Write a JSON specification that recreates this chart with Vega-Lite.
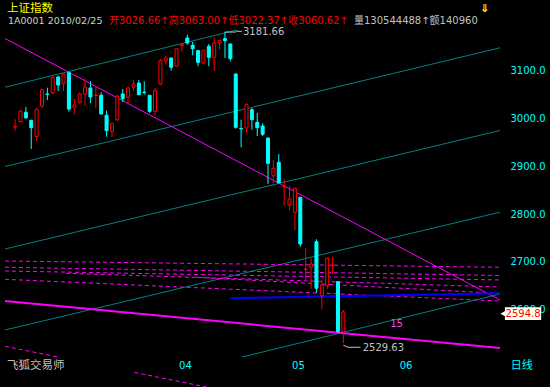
{
  "$schema": "https://vega.github.io/schema/vega-lite/v6.json",
  "width": 505,
  "height": 327,
  "autosize": "none",
  "padding": {"left": 0, "top": 30, "right": 45, "bottom": 30},
  "background": "#000000",
  "config": {
    "view": {"stroke": null},
    "axis": {"grid": false, "domain": false, "ticks": false, "labelColor": "#00ffff", "labelFont": "DejaVu Sans", "labelFontSize": 10, "labelOverlap": false, "labelFlush": false, "zindex": 0},
    "axisX": {"labelAlign": "left", "labelOffset": 2, "labelPadding": 3},
    "axisY": {"labelPadding": 5}
  },
  "datasets": {
    "candles": [
      {"i": 0, "date": "2010-02-11", "o": 2982.5, "h": 2998.7, "l": 2974.8, "c": 2983.5},
      {"i": 1, "date": "2010-02-12", "o": 2993.7, "h": 3017.6, "l": 2992.5, "c": 3016.1},
      {"i": 2, "date": "2010-02-22", "o": 3013.4, "h": 3024.5, "l": 3000.8, "c": 3001.5},
      {"i": 3, "date": "2010-02-23", "o": 2996.6, "h": 2997.5, "l": 2936.5, "c": 2981.1},
      {"i": 4, "date": "2010-02-24", "o": 2962.3, "h": 3021.8, "l": 2953.9, "c": 3019.7},
      {"i": 5, "date": "2010-02-25", "o": 3026.66, "h": 3063.0, "l": 3022.37, "c": 3060.62},
      {"i": 6, "date": "2010-02-26", "o": 3051.5, "h": 3065.0, "l": 3039.2, "c": 3050.8},
      {"i": 7, "date": "2010-03-01", "o": 3054.5, "h": 3090.1, "l": 3051.8, "c": 3086.0},
      {"i": 8, "date": "2010-03-02", "o": 3087.4, "h": 3090.1, "l": 3058.1, "c": 3070.6},
      {"i": 9, "date": "2010-03-03", "o": 3073.4, "h": 3095.2, "l": 3058.1, "c": 3093.7},
      {"i": 10, "date": "2010-03-04", "o": 3096.4, "h": 3098.5, "l": 3014.7, "c": 3020.3},
      {"i": 11, "date": "2010-03-05", "o": 3023.9, "h": 3041.3, "l": 3009.2, "c": 3028.7},
      {"i": 12, "date": "2010-03-08", "o": 3033.5, "h": 3054.5, "l": 3031.4, "c": 3051.8},
      {"i": 13, "date": "2010-03-09", "o": 3051.8, "h": 3084.7, "l": 3026.6, "c": 3066.5},
      {"i": 14, "date": "2010-03-10", "o": 3064.4, "h": 3078.4, "l": 3032.9, "c": 3045.5},
      {"i": 15, "date": "2010-03-11", "o": 3048.6, "h": 3067.9, "l": 3022.4, "c": 3049.6},
      {"i": 16, "date": "2010-03-12", "o": 3049.1, "h": 3055.3, "l": 3009.0, "c": 3009.9},
      {"i": 17, "date": "2010-03-15", "o": 3007.1, "h": 3016.8, "l": 2962.3, "c": 2974.8},
      {"i": 18, "date": "2010-03-16", "o": 2973.6, "h": 2992.5, "l": 2961.6, "c": 2989.5},
      {"i": 19, "date": "2010-03-17", "o": 2997.9, "h": 3050.3, "l": 2994.6, "c": 3047.0},
      {"i": 20, "date": "2010-03-18", "o": 3051.8, "h": 3062.3, "l": 3035.0, "c": 3041.9},
      {"i": 21, "date": "2010-03-19", "o": 3044.9, "h": 3067.9, "l": 3030.8, "c": 3064.4},
      {"i": 22, "date": "2010-03-22", "o": 3066.5, "h": 3081.8, "l": 3058.7, "c": 3072.7},
      {"i": 23, "date": "2010-03-23", "o": 3074.8, "h": 3081.1, "l": 3049.5, "c": 3050.3},
      {"i": 24, "date": "2010-03-24", "o": 3055.8, "h": 3078.4, "l": 3050.3, "c": 3055.0},
      {"i": 25, "date": "2010-03-25", "o": 3049.1, "h": 3049.8, "l": 3012.0, "c": 3015.5},
      {"i": 26, "date": "2010-03-26", "o": 3015.5, "h": 3064.4, "l": 3007.1, "c": 3058.7},
      {"i": 27, "date": "2010-03-29", "o": 3072.7, "h": 3125.8, "l": 3070.0, "c": 3121.6},
      {"i": 28, "date": "2010-03-30", "o": 3121.6, "h": 3132.1, "l": 3113.2, "c": 3127.3},
      {"i": 29, "date": "2010-03-31", "o": 3127.3, "h": 3128.0, "l": 3100.6, "c": 3107.8},
      {"i": 30, "date": "2010-04-01", "o": 3109.9, "h": 3147.5, "l": 3109.0, "c": 3146.7},
      {"i": 31, "date": "2010-04-02", "o": 3153.0, "h": 3157.2, "l": 3139.8, "c": 3156.0},
      {"i": 32, "date": "2010-04-06", "o": 3169.2, "h": 3176.1, "l": 3155.1, "c": 3158.7},
      {"i": 33, "date": "2010-04-07", "o": 3153.9, "h": 3160.8, "l": 3132.9, "c": 3146.7},
      {"i": 34, "date": "2010-04-08", "o": 3142.6, "h": 3143.3, "l": 3109.9, "c": 3118.2},
      {"i": 35, "date": "2010-04-09", "o": 3116.8, "h": 3144.2, "l": 3113.2, "c": 3143.4},
      {"i": 36, "date": "2010-04-12", "o": 3151.8, "h": 3156.6, "l": 3109.9, "c": 3128.7},
      {"i": 37, "date": "2010-04-13", "o": 3128.7, "h": 3170.6, "l": 3100.6, "c": 3158.7},
      {"i": 38, "date": "2010-04-14", "o": 3158.7, "h": 3165.2, "l": 3144.7, "c": 3164.4},
      {"i": 39, "date": "2010-04-15", "o": 3167.7, "h": 3181.66, "l": 3127.3, "c": 3163.5},
      {"i": 40, "date": "2010-04-16", "o": 3156.6, "h": 3157.4, "l": 3120.3, "c": 3125.8},
      {"i": 41, "date": "2010-04-19", "o": 3093.7, "h": 3094.5, "l": 2979.0, "c": 2982.0},
      {"i": 42, "date": "2010-04-20", "o": 2979.4, "h": 2997.9, "l": 2940.0, "c": 2978.6},
      {"i": 43, "date": "2010-04-21", "o": 2980.5, "h": 3032.9, "l": 2971.5, "c": 3029.4},
      {"i": 44, "date": "2010-04-22", "o": 3018.9, "h": 3022.4, "l": 2976.9, "c": 2997.9},
      {"i": 45, "date": "2010-04-23", "o": 2992.5, "h": 3012.0, "l": 2963.7, "c": 2981.1},
      {"i": 46, "date": "2010-04-26", "o": 2984.7, "h": 2990.4, "l": 2963.7, "c": 2967.3},
      {"i": 47, "date": "2010-04-27", "o": 2959.5, "h": 2960.3, "l": 2863.1, "c": 2906.5},
      {"i": 48, "date": "2010-04-28", "o": 2880.5, "h": 2913.4, "l": 2864.6, "c": 2896.0},
      {"i": 49, "date": "2010-04-29", "o": 2908.6, "h": 2926.0, "l": 2864.6, "c": 2865.8},
      {"i": 50, "date": "2010-04-30", "o": 2857.0, "h": 2873.6, "l": 2817.6, "c": 2857.8},
      {"i": 51, "date": "2010-05-04", "o": 2819.1, "h": 2858.9, "l": 2808.6, "c": 2831.7},
      {"i": 52, "date": "2010-05-05", "o": 2803.8, "h": 2854.9, "l": 2766.7, "c": 2854.1},
      {"i": 53, "date": "2010-05-06", "o": 2835.2, "h": 2836.0, "l": 2731.7, "c": 2737.3},
      {"i": 54, "date": "2010-05-07", "o": 2683.8, "h": 2728.3, "l": 2661.9, "c": 2684.8},
      {"i": 55, "date": "2010-05-10", "o": 2688.5, "h": 2707.3, "l": 2643.0, "c": 2695.4},
      {"i": 56, "date": "2010-05-11", "o": 2742.1, "h": 2747.2, "l": 2635.2, "c": 2644.5},
      {"i": 57, "date": "2010-05-12", "o": 2628.9, "h": 2663.3, "l": 2600.4, "c": 2651.4},
      {"i": 58, "date": "2010-05-13", "o": 2649.9, "h": 2708.1, "l": 2643.0, "c": 2707.3},
      {"i": 59, "date": "2010-05-14", "o": 2692.2, "h": 2710.7, "l": 2674.4, "c": 2693.2},
      {"i": 60, "date": "2010-05-17", "o": 2658.3, "h": 2659.0, "l": 2551.4, "c": 2553.5},
      {"i": 61, "date": "2010-05-18", "o": 2553.5, "h": 2598.9, "l": 2529.63, "c": 2594.8}
    ],
    "lines": [
      {"id": "T0", "kind": "teal", "i": -1.876, "p": 3065.95},
      {"id": "T0", "kind": "teal", "i": 90.11, "p": 3322.4},
      {"id": "TA", "kind": "teal", "i": -1.876, "p": 2899.8},
      {"id": "TA", "kind": "teal", "i": 90.11, "p": 3148.6},
      {"id": "TB", "kind": "teal", "i": -1.876, "p": 2726.8},
      {"id": "TB", "kind": "teal", "i": 90.11, "p": 2975.3},
      {"id": "TC", "kind": "teal", "i": -1.876, "p": 2557.0},
      {"id": "TC", "kind": "teal", "i": 90.11, "p": 2804.0},
      {"id": "TD", "kind": "teal", "i": -1.876, "p": 2378.8},
      {"id": "TD", "kind": "teal", "i": 90.11, "p": 2632.5},
      {"id": "Da", "kind": "dash", "i": -1.876, "p": 2701.7},
      {"id": "Da", "kind": "dash", "i": 90.11, "p": 2688.5},
      {"id": "Db", "kind": "dash", "i": -1.876, "p": 2688.5},
      {"id": "Db", "kind": "dash", "i": 90.11, "p": 2671.3},
      {"id": "Dc", "kind": "dash", "i": -1.876, "p": 2680.7},
      {"id": "Dc", "kind": "dash", "i": 90.11, "p": 2661.9},
      {"id": "De", "kind": "dash", "i": 9.42, "p": 2675.9},
      {"id": "De", "kind": "dash", "i": 90.11, "p": 2647.2},
      {"id": "Df", "kind": "dash", "i": 33.64, "p": 2667.5},
      {"id": "Df", "kind": "dash", "i": 90.11, "p": 2633.6},
      {"id": "Dd", "kind": "dash", "i": -1.876, "p": 2663.3},
      {"id": "Dd", "kind": "dash", "i": 90.11, "p": 2617.8},
      {"id": "M1", "kind": "mag", "i": -1.876, "p": 3168.1},
      {"id": "M1", "kind": "mag", "i": 90.11, "p": 2619.9},
      {"id": "M2", "kind": "mag2", "i": -1.876, "p": 2617.8},
      {"id": "M2", "kind": "mag2", "i": 90.11, "p": 2519.3},
      {"id": "B1", "kind": "blue", "i": 40.02, "p": 2623.5},
      {"id": "B1", "kind": "blue", "i": 90.11, "p": 2633.9},
      {"id": "S1", "kind": "outdash", "i": -1.876, "p": 2522.9},
      {"id": "S1", "kind": "outdash", "i": 7.96, "p": 2500.4},
      {"id": "S2", "kind": "outdash", "i": 22.17, "p": 2468.1},
      {"id": "S2", "kind": "outdash", "i": 37.65, "p": 2432.7},
      {"id": "L1", "kind": "lead", "i": 39, "p": 3181.66},
      {"id": "L1", "kind": "lead", "i": 40.93, "p": 3181.66},
      {"id": "L1", "kind": "lead", "i": 41.1, "p": 3183.2},
      {"id": "L1", "kind": "lead", "i": 42.15, "p": 3183.2},
      {"id": "L2", "kind": "lead", "i": 61, "p": 2525.0},
      {"id": "L2", "kind": "lead", "i": 61.9, "p": 2520.8},
      {"id": "L2", "kind": "lead", "i": 64.2, "p": 2520.8}
    ],
    "marks": [
      {"name": "high", "i": 42.35, "p": 3182.2, "v": 3181.66},
      {"name": "low", "i": 64.6, "p": 2519.3, "v": 2529.63}
    ]
  },
  "layer": [
    {
      "data": {"name": "lines"},
      "transform": [{"filter": "datum.kind == 'teal'"}],
      "mark": {"type": "line", "color": "#008080", "strokeWidth": 1, "clip": true},
      "encoding": {
        "x": {"field": "i", "type": "quantitative", "scale": {"domain": [-1.876, 90.11], "nice": false, "zero": false}, "axis": {"title": null, "values": [30, 51, 71], "labelExpr": "datum.value == 30 ? '04' : datum.value == 51 ? '05' : '06'"}},
        "y": {"field": "p", "type": "quantitative", "scale": {"domain": [2500.4, 3185.95], "nice": false, "zero": false}, "axis": {"title": null, "orient": "right", "values": [2600, 2700, 2800, 2900, 3000, 3100], "format": ".1f"}},
        "detail": {"field": "id"}
      }
    },
    {
      "data": {"name": "lines"},
      "transform": [{"filter": "datum.kind == 'dash'"}],
      "mark": {"type": "line", "color": "#ff00ff", "strokeWidth": 1, "strokeDash": [4, 3], "clip": true},
      "encoding": {
        "x": {"field": "i", "type": "quantitative", "axis": {"title": null, "values": [30, 51, 71], "labelExpr": "datum.value == 30 ? '04' : datum.value == 51 ? '05' : '06'"}},
        "y": {"field": "p", "type": "quantitative", "axis": {"title": null, "orient": "right", "values": [2600, 2700, 2800, 2900, 3000, 3100], "format": ".1f"}},
        "detail": {"field": "id"}
      }
    },
    {
      "data": {"name": "lines"},
      "transform": [{"filter": "datum.kind == 'outdash'"}],
      "mark": {"type": "line", "color": "#ff00ff", "strokeWidth": 1, "strokeDash": [4, 3], "clip": false},
      "encoding": {
        "x": {"field": "i", "type": "quantitative", "axis": {"title": null, "values": [30, 51, 71], "labelExpr": "datum.value == 30 ? '04' : datum.value == 51 ? '05' : '06'"}},
        "y": {"field": "p", "type": "quantitative", "axis": {"title": null, "orient": "right", "values": [2600, 2700, 2800, 2900, 3000, 3100], "format": ".1f"}},
        "detail": {"field": "id"}
      }
    },
    {
      "data": {"name": "lines"},
      "transform": [{"filter": "datum.kind == 'mag'"}],
      "mark": {"type": "line", "color": "#ff00ff", "strokeWidth": 1, "clip": true},
      "encoding": {
        "x": {"field": "i", "type": "quantitative", "axis": {"title": null, "values": [30, 51, 71], "labelExpr": "datum.value == 30 ? '04' : datum.value == 51 ? '05' : '06'"}},
        "y": {"field": "p", "type": "quantitative", "axis": {"title": null, "orient": "right", "values": [2600, 2700, 2800, 2900, 3000, 3100], "format": ".1f"}},
        "detail": {"field": "id"}
      }
    },
    {
      "data": {"name": "lines"},
      "transform": [{"filter": "datum.kind == 'mag2'"}],
      "mark": {"type": "line", "color": "#ff00ff", "strokeWidth": 2, "clip": true},
      "encoding": {
        "x": {"field": "i", "type": "quantitative", "axis": {"title": null, "values": [30, 51, 71], "labelExpr": "datum.value == 30 ? '04' : datum.value == 51 ? '05' : '06'"}},
        "y": {"field": "p", "type": "quantitative", "axis": {"title": null, "orient": "right", "values": [2600, 2700, 2800, 2900, 3000, 3100], "format": ".1f"}},
        "detail": {"field": "id"}
      }
    },
    {
      "data": {"name": "lines"},
      "transform": [{"filter": "datum.kind == 'blue'"}],
      "mark": {"type": "line", "color": "#0000ff", "strokeWidth": 2, "clip": true},
      "encoding": {
        "x": {"field": "i", "type": "quantitative", "axis": {"title": null, "values": [30, 51, 71], "labelExpr": "datum.value == 30 ? '04' : datum.value == 51 ? '05' : '06'"}},
        "y": {"field": "p", "type": "quantitative", "axis": {"title": null, "orient": "right", "values": [2600, 2700, 2800, 2900, 3000, 3100], "format": ".1f"}},
        "detail": {"field": "id"}
      }
    },
    {
      "data": {"name": "candles"},
      "mark": {"type": "rule", "strokeWidth": 1},
      "encoding": {
        "x": {"field": "i", "type": "quantitative", "axis": {"title": null, "values": [30, 51, 71], "labelExpr": "datum.value == 30 ? '04' : datum.value == 51 ? '05' : '06'"}},
        "y": {"field": "l", "type": "quantitative", "axis": {"title": null, "orient": "right", "values": [2600, 2700, 2800, 2900, 3000, 3100], "format": ".1f"}},
        "y2": {"field": "h"},
        "color": {"condition": {"test": "datum.c >= datum.o", "value": "#ff0000"}, "value": "#00ffff"}
      }
    },
    {
      "data": {"name": "candles"},
      "mark": {"type": "bar", "size": 3, "strokeWidth": 1},
      "encoding": {
        "x": {"field": "i", "type": "quantitative", "axis": {"title": null, "values": [30, 51, 71], "labelExpr": "datum.value == 30 ? '04' : datum.value == 51 ? '05' : '06'"}},
        "y": {"field": "o", "type": "quantitative", "axis": {"title": null, "orient": "right", "values": [2600, 2700, 2800, 2900, 3000, 3100], "format": ".1f"}},
        "y2": {"field": "c"},
        "fill": {"condition": {"test": "datum.c >= datum.o", "value": "#000000"}, "value": "#00ffff"},
        "stroke": {"condition": {"test": "datum.c >= datum.o", "value": "#ff0000"}, "value": "#00ffff"}
      }
    },
    {
      "data": {"name": "lines"},
      "transform": [{"filter": "datum.kind == 'lead'"}],
      "mark": {"type": "line", "color": "#c0c0c0", "strokeWidth": 1, "clip": false},
      "encoding": {
        "x": {"field": "i", "type": "quantitative", "axis": {"title": null, "values": [30, 51, 71], "labelExpr": "datum.value == 30 ? '04' : datum.value == 51 ? '05' : '06'"}},
        "y": {"field": "p", "type": "quantitative", "axis": {"title": null, "orient": "right", "values": [2600, 2700, 2800, 2900, 3000, 3100], "format": ".1f"}},
        "detail": {"field": "id"}
      }
    },
    {
      "data": {"name": "marks"},
      "mark": {"type": "text", "align": "left", "baseline": "middle", "color": "#c0c0c0", "font": "DejaVu Sans", "fontSize": 10},
      "encoding": {
        "x": {"field": "i", "type": "quantitative", "axis": {"title": null, "values": [30, 51, 71], "labelExpr": "datum.value == 30 ? '04' : datum.value == 51 ? '05' : '06'"}},
        "y": {"field": "p", "type": "quantitative", "axis": {"title": null, "orient": "right", "values": [2600, 2700, 2800, 2900, 3000, 3100], "format": ".1f"}},
        "text": {"field": "v", "type": "quantitative", "format": ".2f"}
      }
    },
    {
      "data": {"values": [{}]},
      "mark": {"type": "text", "text": "15", "align": "left", "baseline": "middle", "color": "#ff40ff", "font": "DejaVu Sans", "fontSize": 10},
      "encoding": {
        "x": {"datum": 69.71, "type": "quantitative", "axis": {"title": null, "values": [30, 51, 71], "labelExpr": "datum.value == 30 ? '04' : datum.value == 51 ? '05' : '06'"}},
        "y": {"datum": 2568.6, "type": "quantitative", "axis": {"title": null, "orient": "right", "values": [2600, 2700, 2800, 2900, 3000, 3100], "format": ".1f"}}
      }
    },
    {
      "data": {"values": [{}]},
      "mark": {"type": "rect", "fill": "#ffffee", "clip": false},
      "encoding": {
        "x": {"datum": 91.02, "type": "quantitative", "axis": {"title": null, "values": [30, 51, 71], "labelExpr": "datum.value == 30 ? '04' : datum.value == 51 ? '05' : '06'"}},
        "x2": {"datum": 97.76},
        "y": {"datum": 2578.0, "type": "quantitative", "axis": {"title": null, "orient": "right", "values": [2600, 2700, 2800, 2900, 3000, 3100], "format": ".1f"}},
        "y2": {"datum": 2604.6}
      }
    },
    {
      "data": {"values": [{}]},
      "mark": {"type": "point", "shape": "triangle-left", "filled": true, "color": "#ffffee", "size": 40, "opacity": 1, "clip": false},
      "encoding": {
        "x": {"datum": 90.7, "type": "quantitative", "axis": {"title": null, "values": [30, 51, 71], "labelExpr": "datum.value == 30 ? '04' : datum.value == 51 ? '05' : '06'"}},
        "y": {"datum": 2591.3, "type": "quantitative", "axis": {"title": null, "orient": "right", "values": [2600, 2700, 2800, 2900, 3000, 3100], "format": ".1f"}}
      }
    },
    {
      "data": {"name": "candles"},
      "transform": [{"filter": "datum.i == 61"}],
      "mark": {"type": "text", "align": "center", "baseline": "middle", "color": "#ff0000", "font": "DejaVu Sans", "fontSize": 10},
      "encoding": {
        "x": {"datum": 94.4, "type": "quantitative", "axis": {"title": null, "values": [30, 51, 71], "labelExpr": "datum.value == 30 ? '04' : datum.value == 51 ? '05' : '06'"}},
        "y": {"datum": 2591.3, "type": "quantitative", "axis": {"title": null, "orient": "right", "values": [2600, 2700, 2800, 2900, 3000, 3100], "format": ".1f"}},
        "text": {"field": "c", "type": "quantitative", "format": ".1f"}
      }
    },
    {
      "data": {"values": [{}]},
      "mark": {"type": "text", "text": "上证指数", "align": "left", "baseline": "middle", "color": "#ffff00", "font": "Noto Sans CJK SC", "fontSize": 11.5},
      "encoding": {
        "x": {"datum": -1.51, "type": "quantitative", "axis": {"title": null, "values": [30, 51, 71], "labelExpr": "datum.value == 30 ? '04' : datum.value == 51 ? '05' : '06'"}},
        "y": {"datum": 3230.5, "type": "quantitative", "axis": {"title": null, "orient": "right", "values": [2600, 2700, 2800, 2900, 3000, 3100], "format": ".1f"}}
      }
    },
    {
      "data": {"values": [{}]},
      "mark": {"type": "text", "text": "1A0001 2010/02/25", "align": "left", "baseline": "middle", "color": "#c0d8c0", "font": "DejaVu Sans, Noto Sans CJK SC", "fontSize": 9.5},
      "encoding": {
        "x": {"datum": -1.33, "type": "quantitative", "axis": {"title": null, "values": [30, 51, 71], "labelExpr": "datum.value == 30 ? '04' : datum.value == 51 ? '05' : '06'"}},
        "y": {"datum": 3203.8, "type": "quantitative", "axis": {"title": null, "orient": "right", "values": [2600, 2700, 2800, 2900, 3000, 3100], "format": ".1f"}}
      }
    },
    {
      "data": {"values": [{}]},
      "mark": {"type": "text", "text": "开3026.66↑高3063.00↑低3022.37↑收3060.62↑", "align": "left", "baseline": "middle", "color": "#ff0000", "font": "DejaVu Sans, Noto Sans CJK SC", "fontSize": 10},
      "encoding": {
        "x": {"datum": 17.45, "type": "quantitative", "axis": {"title": null, "values": [30, 51, 71], "labelExpr": "datum.value == 30 ? '04' : datum.value == 51 ? '05' : '06'"}},
        "y": {"datum": 3203.8, "type": "quantitative", "axis": {"title": null, "orient": "right", "values": [2600, 2700, 2800, 2900, 3000, 3100], "format": ".1f"}}
      }
    },
    {
      "data": {"values": [{}]},
      "mark": {"type": "text", "text": "量130544488↑额140960", "align": "left", "baseline": "middle", "color": "#c0c0c0", "font": "DejaVu Sans, Noto Sans CJK SC", "fontSize": 10},
      "encoding": {
        "x": {"datum": 62.97, "type": "quantitative", "axis": {"title": null, "values": [30, 51, 71], "labelExpr": "datum.value == 30 ? '04' : datum.value == 51 ? '05' : '06'"}},
        "y": {"datum": 3203.8, "type": "quantitative", "axis": {"title": null, "orient": "right", "values": [2600, 2700, 2800, 2900, 3000, 3100], "format": ".1f"}}
      }
    },
    {
      "data": {"values": [{}]},
      "mark": {"type": "text", "text": "⇓", "align": "center", "baseline": "middle", "color": "#ffff00", "font": "DejaVu Sans", "fontSize": 11, "fontWeight": "bold"},
      "encoding": {
        "x": {"datum": 87.3, "type": "quantitative", "axis": {"title": null, "values": [30, 51, 71], "labelExpr": "datum.value == 30 ? '04' : datum.value == 51 ? '05' : '06'"}},
        "y": {"datum": 3230.5, "type": "quantitative", "axis": {"title": null, "orient": "right", "values": [2600, 2700, 2800, 2900, 3000, 3100], "format": ".1f"}}
      }
    },
    {
      "data": {"values": [{}]},
      "mark": {"type": "text", "text": "飞狐交易师", "align": "left", "baseline": "middle", "color": "#c0c0c0", "font": "Noto Sans CJK SC", "fontSize": 11.5},
      "encoding": {
        "x": {"datum": -1.51, "type": "quantitative", "axis": {"title": null, "values": [30, 51, 71], "labelExpr": "datum.value == 30 ? '04' : datum.value == 51 ? '05' : '06'"}},
        "y": {"datum": 2482.2, "type": "quantitative", "axis": {"title": null, "orient": "right", "values": [2600, 2700, 2800, 2900, 3000, 3100], "format": ".1f"}}
      }
    },
    {
      "data": {"values": [{}]},
      "mark": {"type": "text", "text": "日线", "align": "center", "baseline": "middle", "color": "#00ffff", "font": "Noto Sans CJK SC", "fontSize": 11},
      "encoding": {
        "x": {"datum": 94.17, "type": "quantitative", "axis": {"title": null, "values": [30, 51, 71], "labelExpr": "datum.value == 30 ? '04' : datum.value == 51 ? '05' : '06'"}},
        "y": {"datum": 2482.2, "type": "quantitative", "axis": {"title": null, "orient": "right", "values": [2600, 2700, 2800, 2900, 3000, 3100], "format": ".1f"}}
      }
    }
  ]
}
